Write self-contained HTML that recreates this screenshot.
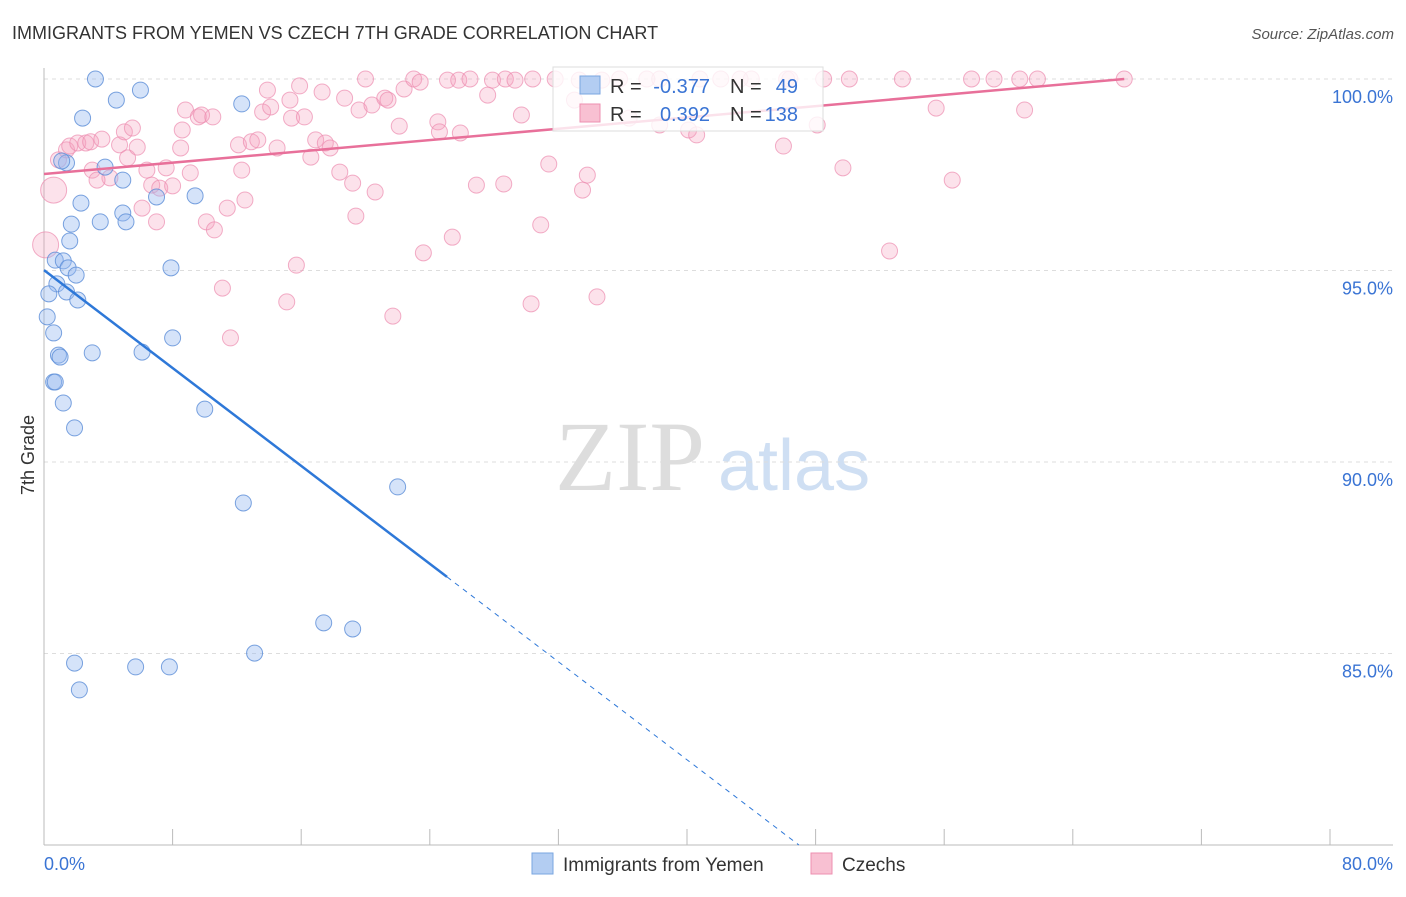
<!DOCTYPE html>
<html><head><meta charset="utf-8"><style>
body{margin:0;background:#fff;font-family:"Liberation Sans",sans-serif}
</style></head><body>
<svg id="c" width="1406" height="892" xmlns="http://www.w3.org/2000/svg">
<text x="12" y="39" font-size="18" fill="#333">IMMIGRANTS FROM YEMEN VS CZECH 7TH GRADE CORRELATION CHART</text>
<text x="1394" y="39" font-size="15" fill="#555" font-style="italic" text-anchor="end">Source: ZipAtlas.com</text>
<text x="555" y="490" font-size="100" fill="#ddd" font-family="Liberation Serif,serif">ZIP</text>
<text x="718" y="490" font-size="72" fill="#cfdff3">atlas</text>
<text transform="translate(34,455) rotate(-90)" font-size="18" fill="#333" text-anchor="middle">7th Grade</text>
<g id="grid"></g><g id="marks"></g>
<g>
<rect x="553" y="67" width="270" height="64" fill="#fff" fill-opacity="0.8" stroke="#ddd"/>
<rect x="580" y="76" width="20" height="18" fill="#b3cdf2" stroke="#7aa6e0"/>
<rect x="580" y="104" width="20" height="18" fill="#f8c0d2" stroke="#ee8fb0"/>
<text x="610" y="93" font-size="20" fill="#333">R =</text>
<text x="710" y="93" font-size="20" fill="#3a74d4" text-anchor="end">-0.377</text>
<text x="730" y="93" font-size="20" fill="#333">N =</text>
<text x="798" y="93" font-size="20" fill="#3a74d4" text-anchor="end">49</text>
<text x="610" y="121" font-size="20" fill="#333">R =</text>
<text x="710" y="121" font-size="20" fill="#3a74d4" text-anchor="end">0.392</text>
<text x="730" y="121" font-size="20" fill="#333">N =</text>
<text x="798" y="121" font-size="20" fill="#3a74d4" text-anchor="end">138</text>
</g>
<g>
<rect x="532" y="853" width="21" height="21" fill="#b3cdf2" stroke="#7aa6e0"/>
<text x="563" y="871" font-size="19" fill="#333">Immigrants from Yemen</text>
<rect x="811" y="853" width="21" height="21" fill="#f8c0d2" stroke="#ee8fb0"/>
<text x="842" y="871" font-size="19" fill="#333">Czechs</text>
</g>
</svg>
<script>
const yTicks=[100,95,90,85];
const yTickLabels=["100.0%","95.0%","90.0%","85.0%"];
const blueX=[3.2,6.0,4.5,12.3,2.4,4.9,3.8,1.4,2.3,9.4,7.0,4.9,5.1,3.5,1.7,1.6,0.7,1.2,1.5,2.0,7.9,0.8,1.4,0.3,2.1,0.2,0.6,8.0,0.9,1.0,3.0,6.1,0.6,0.7,1.2,10.0,1.9,22.0,12.4,17.4,19.2,13.1,1.9,5.7,7.8,2.2,1.1];
const blueY=[100,99.71,99.45,99.35,98.98,97.36,97.70,97.81,96.76,96.95,96.92,96.50,96.27,96.27,96.21,95.77,95.27,95.25,95.07,94.88,95.07,94.65,94.44,94.39,94.23,93.79,93.37,93.24,92.79,92.74,92.85,92.87,92.09,92.09,91.54,91.38,90.89,89.35,88.93,85.80,85.64,85.01,84.75,84.65,84.65,84.05,97.86];
const pinkX=[0.6,0.1,0.9,1.4,1.6,2.1,2.6,2.9,3.6,3.0,4.1,3.3,4.7,5.0,5.5,5.2,5.8,6.4,6.7,7.2,6.1,7.0,7.6,8.0,8.6,8.8,8.5,9.1,9.6,9.8,10.5,10.1,10.6,11.4,11.1,11.6,12.5,12.3,12.1,12.9,13.3,13.6,13.9,14.1,14.5,15.3,15.4,15.9,16.2,15.7,15.1,16.6,17.3,16.9,17.5,17.8,18.4,19.2,19.4,18.7,19.6,20.0,20.4,21.2,21.4,20.6,21.7,22.1,22.4,23.0,23.4,23.6,24.5,24.6,25.4,25.1,25.8,25.9,26.5,26.9,27.6,27.9,28.6,28.7,29.3,29.7,30.3,30.4,30.9,31.4,31.8,33.3,33.5,33.8,34.4,34.7,35.8,37.5,38.3,40.1,40.6,40.8,42.1,44.0,46.0,46.2,46.4,48.1,48.5,49.7,50.1,52.6,53.4,55.5,56.5,57.7,59.1,60.7,61.0,61.8,67.2,33.0,38.3,43.3,36.4];
const pinkY=[97.10,95.67,97.89,98.15,98.25,98.33,98.33,98.36,98.43,97.62,97.42,97.36,98.28,98.62,98.72,97.94,98.22,97.62,97.23,97.15,96.63,96.27,97.68,97.21,98.67,99.19,98.20,97.55,99.01,99.06,99.01,96.27,96.06,96.63,94.54,93.24,96.84,97.62,98.28,98.36,98.41,99.14,99.71,99.27,98.20,99.45,98.98,99.82,99.01,95.14,94.18,97.96,99.66,98.41,98.33,98.20,97.57,97.28,96.42,99.50,99.19,100,99.32,99.50,99.45,97.05,93.81,98.77,99.74,100,99.92,95.46,98.88,98.62,95.87,99.97,99.97,98.59,100,97.23,99.58,99.97,97.26,100,99.97,99.06,94.13,100,96.19,97.78,100,99.97,97.10,97.49,94.31,99.97,100,100,100,98.67,98.54,100,100,100,98.25,100,100,98.80,100,97.68,100,95.51,100,99.24,97.36,100,100,100,99.19,100,100,99.45,98.80,100,98.98];
const blueTrend=[[0,95.01],[25.07,87.0],[46.96,80.0]];
const pinkTrend=[[0,97.52],[67.2,100]];
const NS="http://www.w3.org/2000/svg";
const X=v=>44+v*16.075, Y=v=>79+(100-v)*38.3;
function mk(tag,a,parent){const e=document.createElementNS(NS,tag);for(const k in a)e.setAttribute(k,a[k]);parent.appendChild(e);return e;}
const g=document.getElementById('grid'), m=document.getElementById('marks');
yTicks.forEach((t,i)=>{
 const l=mk('line',{x1:44,x2:1393,y1:Y(t),y2:Y(t),stroke:'#ddd','stroke-dasharray':'4,4'},g);
 
 
 const tx=mk('text',{x:1393,y:Y(t)+24,'font-size':18,fill:'#3a74d4','text-anchor':'end'},g);tx.textContent=yTickLabels[i];
 
 
});
const ax=mk('line',{x1:44,x2:44,y1:68,y2:845,stroke:'#bbb'},g);


const bx=mk('line',{x1:44,x2:1393,y1:845,y2:845,stroke:'#bbb'},g);


for(let v=0;v<=80;v+=8){const t=mk('line',{x1:X(v),x2:X(v),y1:829,y2:845,stroke:'#bbb'},g);
 
 }
const xl=mk('text',{x:44,y:870,'font-size':18,fill:'#3a74d4'},g);xl.textContent='0.0%';


const xr=mk('text',{x:1393,y:870,'font-size':18,fill:'#3a74d4','text-anchor':'end'},g);xr.textContent='80.0%';


pinkX.forEach((x,i)=>{const r=(i<2)?13:8;const c=mk('circle',{cx:X(x),cy:Y(pinkY[i]),r:r,fill:'rgba(244,160,190,0.3)',stroke:'rgba(236,140,175,0.7)'},m);
 
 });
blueX.forEach((x,i)=>{const c=mk('circle',{cx:X(x),cy:Y(blueY[i]),r:8,fill:'rgba(150,185,240,0.4)',stroke:'rgba(90,140,215,0.8)'},m);
 
 });
const pl=mk('line',{x1:X(pinkTrend[0][0]),y1:Y(pinkTrend[0][1]),x2:X(pinkTrend[1][0]),y2:Y(pinkTrend[1][1]),stroke:'#e8709a','stroke-width':2.5},m);


const bl=mk('line',{x1:X(blueTrend[0][0]),y1:Y(blueTrend[0][1]),x2:X(blueTrend[1][0]),y2:Y(blueTrend[1][1]),stroke:'#2e78d8','stroke-width':2.5},m);


const bd=mk('line',{x1:X(blueTrend[1][0]),y1:Y(blueTrend[1][1]),x2:X(blueTrend[2][0]),y2:Y(blueTrend[2][1]),stroke:'#2e78d8','stroke-width':1,'stroke-dasharray':'5,5'},m);


</script>
</body></html>
